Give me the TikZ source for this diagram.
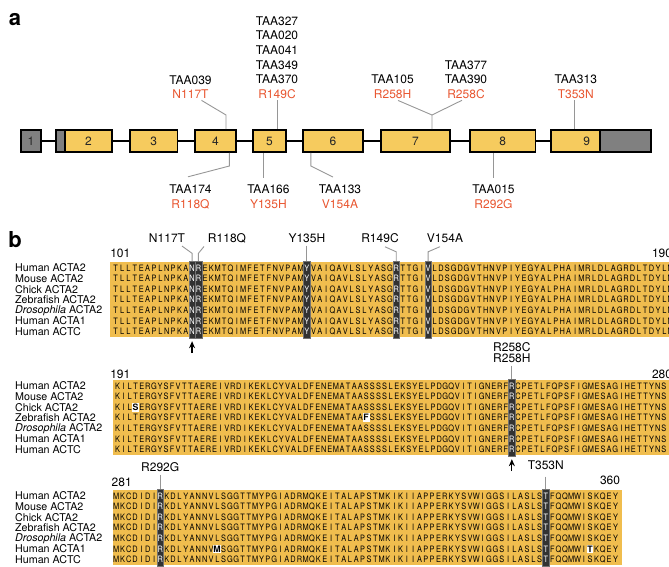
\documentclass[tikz,border=0pt]{standalone}
\usepackage{fontspec}
\setmainfont{TeX Gyre Heros}
\usepackage{xcolor}
\usepackage{graphicx}
\usepackage{tikz}
\usetikzlibrary{arrows.meta, calc}
\definecolor{exonyellow}{RGB}{246,203,94}
\definecolor{exongray}{RGB}{128,128,128}
\definecolor{alnyellow}{RGB}{240,189,78}
\definecolor{hldark}{RGB}{50,50,50}
\definecolor{mutred}{RGB}{232,86,48}
\definecolor{calloutgray}{RGB}{150,150,150}

\newcommand\seqfont{\fontsize{8.8}{8.8}\selectfont}
\newcommand\mut[1]{\textcolor{mutred}{#1}}
% one residue per fixed-width cell
\newcommand\respitch{6}
\newcommand\resrow[2]{\renewcommand\respitch{#1}\edef\resstr{#2}\expandafter\resloop\resstr\relax}
\newcommand\resloop[1]{\ifx\relax#1\else\makebox[\respitch pt][c]{\scalebox{0.84}[1]{#1}}\expandafter\resloop\fi}
\newcommand\seqA{TLLTEAPLNPKANREKMTQIMFETFNVPAMYVAIQAVLSLYASGRTTGIVLDSGDGVTHNVPIYEGYALPHAIMRLDLAGRDLTDYLM}
\newcommand\seqB{KILTERGYSFVTTAEREIVRDIKEKLCYVALDFENEMATAASSSSLEKSYELPDGQVITIGNERFRCPETLFQPSFIGMESAGIHETTYNS}
\newcommand\seqBchick{KILSERGYSFVTTAEREIVRDIKEKLCYVALDFENEMATAASSSSLEKSYELPDGQVITIGNERFRCPETLFQPSFIGMESAGIHETTYNS}
\newcommand\seqBzf{KILTERGYSFVTTAEREIVRDIKEKLCYVALDFENEMATAAFSSSLEKSYELPDGQVITIGNERFRCPETLFQPSFIGMESAGIHETTYNS}
\newcommand\seqC{MKCDIDIRKDLYANNVLSGGTTMYPGIADRMQKEITALAPSTMKIKIIAPPERKYSVWIGGSILASLSTFQQMWISKQEY}
\newcommand\seqCactaone{MKCDIDIRKDLYANNVMSGGTTMYPGIADRMQKEITALAPSTMKIKIIAPPERKYSVWIGGSILASLSTFQQMWITKQEY}
% species names of one block
\newcommand\alnnames[2]{\foreach \nm [count=\r from 0] in {Human ACTA2, Mouse ACTA2, Chick ACTA2, Zebrafish ACTA2, {\textit{Drosophila} ACTA2}, Human ACTA1, Human ACTC}
  \node[seqname] (#2n\r) at (15,{#1+\r*10.6}) {\nm};}
% conserved column with the mutated residue
\newcommand\hlcolumn[4]{\node[hlcol] (#1) at (#2,{#3+37.5}) {};
  \foreach \r in {0,...,6} \node[hlres] (#1r\r) at (#2,{#3+6+\r*10.6}) {\scalebox{0.84}[1]{#4}};}

\begin{document}
\begin{tikzpicture}[x=1pt, y=-1pt,
  panel/.style={font=\fontsize{22}{22}\selectfont\bfseries, inner sep=0pt},
  exon/.style={draw=black, line width=1.8pt, fill=exonyellow, minimum height=22pt,
               inner sep=0pt, font=\fontsize{12}{12}\selectfont, text=black!85},
  intron/.style={line width=2.4pt},
  taa/.style={font=\fontsize{12}{14.6}\selectfont, align=center, inner sep=0pt},
  callout/.style={draw=calloutgray, line width=0.9pt},
  mutlbl/.style={font=\fontsize{12}{11.6}\selectfont, align=center, inner sep=0pt},
  seqname/.style={font=\fontsize{10.7}{10.7}\selectfont, anchor=west, inner sep=0pt},
  seqrow/.style={font=\seqfont, anchor=west, inner sep=0pt, text height=6.3pt, text depth=0pt},
  resnum/.style={font=\fontsize{12}{12}\selectfont, inner sep=0pt},
  hlcol/.style={fill=hldark, draw=black!55, line width=0.4pt, minimum width=6.6pt,
                minimum height=77pt, inner sep=0pt},
  hlres/.style={font=\seqfont, text=white, inner sep=0pt, text height=6.3pt, text depth=0pt},
  mutres/.style={font=\seqfont\bfseries, fill=white, inner xsep=0.7pt, inner ysep=1.2pt,
                 minimum width=6pt, text height=6.3pt, text depth=0pt},
  resarrow/.style={-{Stealth[length=7pt, width=6pt]}, line width=1.2pt, shorten >=3pt}]
  \useasboundingbox (0,0) rectangle (669,567);

  % a: exon structure
  \node[panel] (pa) at (15,20) {a};
  \node[exon, fill=exongray, minimum width=20.3pt] (e1) at (31,141) {1};
  \node[exon, fill=exongray, minimum width=8.7pt] (u2) at (60.65,141) {};
  \foreach \n/\cx/\w in {2/88.35/46.7, 3/153.75/47.5, 4/215.4/41.2, 5/269.35/32.7,
                         6/332.9/59.8, 7/415.5/69, 8/502.6/65.8}
    \node[exon, minimum width=\w pt] (e\n) at (\cx,141) {\n};
  \node[exon, minimum width=48.6pt] (e9) at (575.3,141) {};
  \node[exon, fill=exongray, minimum width=51pt] (u9) at (625.1,141) {};
  \node[exon, draw=none, fill=none] (n9) at (586.6,141) {9};
  \foreach \a/\b in {e1/u2, e2/e3, e3/e4, e4/e5, e5/e6, e6/e7, e7/e8, e8/e9}
    \draw[intron] (\a) -- (\b);

  \node[taa] (l117) at (190.5,87) {TAA039\\\mut{N117T}};
  \node[taa] (l149) at (277,57.5) {TAA327\\TAA020\\TAA041\\TAA349\\TAA370\\\mut{R149C}};
  \node[taa] (l258h) at (392.6,87) {TAA105\\\mut{R258H}};
  \node[taa] (l258c) at (466,79.5) {TAA377\\TAA390\\\mut{R258C}};
  \node[taa] (l353) at (575.8,87) {TAA313\\\mut{T353N}};
  \node[taa] (l118) at (190.5,197) {TAA174\\\mut{R118Q}};
  \node[taa] (l135) at (268.4,197) {TAA166\\\mut{Y135H}};
  \node[taa] (l154) at (340,197) {TAA133\\\mut{V154A}};
  \node[taa] (l292) at (493.5,197) {TAA015\\\mut{R292G}};

  \coordinate (k117) at (226,115);
  \draw[callout] ($(l117.south)+(11,1.5)$) -- (k117) -- (k117 |- e4.north);
  \draw[callout] ($(l149.south)+(0,1.5)$) coordinate (k149) -- (k149 |- e5.north);
  \coordinate (k258) at (432,115);
  \draw[callout] ($(l258h.south)+(5.5,1.5)$) -- (k258) -- (k258 |- e7.north);
  \draw[callout] ($(l258c.south)+(-4,1.5)$) -- (k258);
  \draw[callout] ($(l353.south)+(-1,1.5)$) coordinate (k353) -- (k353 |- e9.north);
  \coordinate (k118) at (229.4,166);
  \draw[callout] (k118 |- e4.south) -- (k118) -- ($(l118.north)+(-2.5,-8)$);
  \coordinate (k135) at ($(l135.north)+(-5.4,-7.5)$);
  \draw[callout] (k135 |- e5.south) -- (k135);
  \coordinate (k154) at (310.8,166);
  \draw[callout] (k154 |- e6.south) -- (k154) -- ($(l154.north)+(-7,-8)$);
  \coordinate (k292) at ($(l292.north)+(0,-7.5)$);
  \draw[callout] (k292 |- e8.south) -- (k292);

  % b: alignment 101-190
  \node[panel] (pb) at (15,240) {b};
  \fill[alnyellow] (110,262) rectangle (672,337);
  \alnnames{268}{a}
  \foreach \s [count=\r from 0] in {\seqA,\seqA,\seqA,\seqA,\seqA,\seqA,\seqA}
    \node[seqrow] (sa\r) at (112.31,{268+\r*10.6}) {\resrow{6.38}{\s}};
  \node[resnum] (p101) at (120.3,253.3) {101};
  \node[resnum] (p190) at (662,253.3) {190};
  \hlcolumn{c117}{192.06}{262}{N}
  \hlcolumn{c118}{198.44}{262}{R}
  \hlcolumn{c135}{306.9}{262}{Y}
  \hlcolumn{c149}{396.2}{262}{R}
  \hlcolumn{c154}{428.1}{262}{V}
  \node[mutlbl] (m117) at (167,238) {N117T};
  \node[mutlbl] (m118) at (227,238) {R118Q};
  \node[mutlbl] (m135) at (306.9,238) {Y135H};
  \node[mutlbl] (m149) at (380,238) {R149C};
  \node[mutlbl] (m154) at (445,238) {V154A};
  \draw[callout] ($(m117.south)+(15,3.5)$) -- ($(c117.north)+(0,-7.5)$) -- (c117.north);
  \draw[callout] ($(m118.south)+(-23,3.5)$) -- ($(c118.north)+(0,-7.5)$) -- (c118.north);
  \draw[callout] ($(m135.south)+(0,3)$) -- (c135.north);
  \draw[callout] ($(m149.south)+(5,4)$) -- ($(c149.north)+(0,-9)$) -- (c149.north);
  \draw[callout] ($(m154.south)+(-5,4)$) -- ($(c154.north)+(0,-9)$) -- (c154.north);
  \coordinate (a117) at ($(c117.south)+(0,15)$);
  \draw[resarrow] (a117) -- (c117);

  % 191-280
  \fill[alnyellow] (113,380) rectangle (672,455);
  \alnnames{386}{b}
  \foreach \s [count=\r from 0] in {\seqB,\seqB,\seqBchick,\seqBzf,\seqB,\seqB,\seqB}
    \node[seqrow] (sb\r) at (114.27,{386+\r*10.6}) {\resrow{6.07}{\s}};
  \node[resnum] (p191) at (120.3,374) {191};
  \node[resnum] (p280) at (662,374) {280};
  \hlcolumn{c258}{511.85}{380}{R}
  \node[mutres] (xs) at (135.51,407.2) {S};
  \node[mutres] (xf) at (366.17,417.8) {F};
  \node[mutlbl] (m258) at (511.85,352.5) {R258C\\R258H};
  \draw[callout] ($(m258.south)+(0,2.5)$) -- (c258.north);
  \coordinate (a258) at ($(c258.south)+(0,15)$);
  \draw[resarrow] (a258) -- (c258);

  % 281-360
  \fill[alnyellow] (113,490) rectangle (622,565);
  \alnnames{496}{c}
  \foreach \s [count=\r from 0] in {\seqC,\seqC,\seqC,\seqC,\seqC,\seqCactaone,\seqC}
    \node[seqrow] (sc\r) at (112.84,{496+\r*10.6}) {\resrow{6.32}{\s}};
  \node[resnum] (p281) at (121.7,482.7) {281};
  \node[resnum] (p360) at (610,480.7) {360};
  \hlcolumn{c292}{160.24}{490}{R}
  \hlcolumn{c353}{545.8}{490}{T}
  \node[mutres] (xm) at (217.12,549) {M};
  \node[mutres] (xt) at (590,549) {T};
  \node[mutlbl] (m292) at (160.24,467) {R292G};
  \node[mutlbl] (m353) at (545.8,465) {T353N};
  \draw[callout] ($(m292.south)+(0,3)$) -- (c292.north);
  \draw[callout] ($(m353.south)+(0,7)$) -- (c353.north);
\end{tikzpicture}
\end{document}
